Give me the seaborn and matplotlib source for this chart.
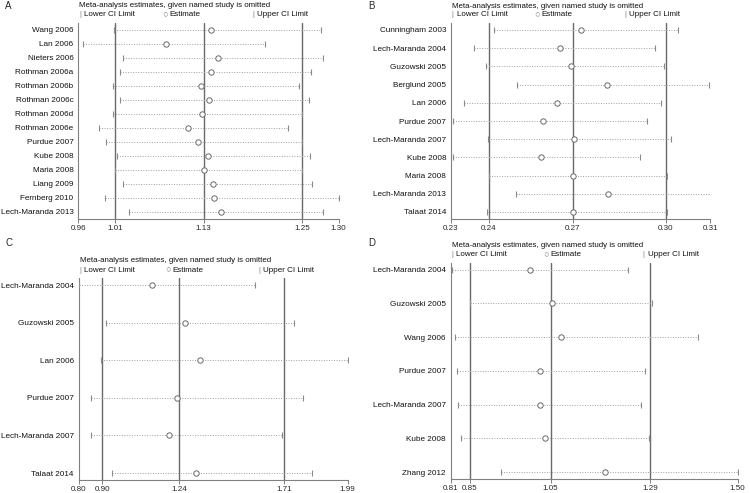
import numpy as np
import matplotlib
matplotlib.use("Agg")
import matplotlib.pyplot as plt
import seaborn as sns

# panel A
a_studies = ["Wang 2006", "Lan 2006", "Nieters 2006", "Rothman 2006a", "Rothman 2006b",
             "Rothman 2006c", "Rothman 2006d", "Rothman 2006e", "Purdue 2007", "Kube 2008",
             "Maria 2008", "Liang 2009", "Fernberg 2010", "Lech-Maranda 2013"]
a_lower = [1.009, 0.969, 1.021, 1.017, 1.008, 1.016, 1.008, 0.989, 0.999, 1.013, 1.010, 1.021, 0.997, 1.028]
a_est = [1.134, 1.076, 1.143, 1.134, 1.121, 1.132, 1.123, 1.105, 1.118, 1.131, 1.125, 1.137, 1.139, 1.147]
a_upper = [1.277, 1.204, 1.280, 1.264, 1.249, 1.262, 1.253, 1.234, 1.252, 1.263, 1.252, 1.266, 1.300, 1.280]
a_overall = [1.010, 1.125, 1.253]
a_range = [0.9626, 1.300]
a_ticklabels = ["0.96", "1.01", "1.13", "1.25", "1.30"]

# panel B
b_studies = ["Cunningham 2003", "Lech-Maranda 2004", "Guzowski 2005", "Berglund 2005", "Lan 2006",
             "Purdue 2007", "Lech-Maranda 2007", "Kube 2008", "Maria 2008", "Lech-Maranda 2013",
             "Talaat 2014"]
b_lower = [0.2454, 0.2391, 0.2429, 0.2523, 0.2361, 0.2326, 0.2434, 0.2327, 0.2436, 0.2520, 0.2430]
b_est = [0.2722, 0.2656, 0.2689, 0.2802, 0.2647, 0.2603, 0.2700, 0.2598, 0.2697, 0.2803, 0.2695]
b_upper = [0.3021, 0.2950, 0.2978, 0.3115, 0.2969, 0.2924, 0.2999, 0.2902, 0.2987, 0.3121, 0.2987]
b_overall = [0.2436, 0.2695, 0.2982]
b_range = [0.232, 0.312]
b_ticklabels = ["0.23", "0.24", "0.27", "0.30", "0.31"]

# panel C
c_studies = ["Lech-Maranda 2004", "Guzowski 2005", "Lan 2006", "Purdue 2007",
             "Lech-Maranda 2007", "Talaat 2014"]
c_lower = [0.800, 0.922, 0.900, 0.853, 0.853, 0.949]
c_est = [1.124, 1.272, 1.337, 1.235, 1.201, 1.319]
c_upper = [1.581, 1.751, 1.990, 1.792, 1.699, 1.832]
c_overall = [0.904, 1.243, 1.710]
c_range = [0.80, 1.99]
c_ticklabels = ["0.80", "0.90", "1.24", "1.71", "1.99"]

# panel D
d_studies = ["Lech-Maranda 2004", "Guzowski 2005", "Wang 2006", "Purdue 2007",
             "Lech-Maranda 2007", "Kube 2008", "Zhang 2012"]
d_lower = [0.812, 0.856, 0.821, 0.824, 0.828, 0.835, 0.931]
d_est = [1.000, 1.053, 1.075, 1.025, 1.025, 1.036, 1.181]
d_upper = [1.237, 1.294, 1.405, 1.277, 1.268, 1.286, 1.500]
d_overall = [0.856, 1.050, 1.290]
d_range = [0.81, 1.50]
d_ticklabels = ["0.81", "0.85", "1.05", "1.29", "1.50"]

sns.set_style("white")
plt.rcParams["font.family"] = ["Liberation Sans", "DejaVu Sans"]

W, H = 750, 493
fig = plt.figure(figsize=(7.5, 4.93), dpi=100)


def panel(box, letter, letter_xy, studies, lower, est, upper, overall, xr, ticklabels):
    left, top, right, bottom = box
    ax = fig.add_axes([left / W, 1 - bottom / H, (right - left) / W, (bottom - top) / H])
    n = len(studies)
    ys = np.arange(n)
    h_px = bottom - top
    step = (h_px - 14) / (n - 1)
    pad = 7 / step

    for v in overall:
        ax.axvline(v, color="#6a6a6a", lw=1.0, zorder=1)
    ax.hlines(ys, lower, upper, color="#a0a0a0", lw=0.7, linestyles=(0, (1, 1.6)), zorder=2)
    sns.scatterplot(x=lower, y=ys, marker="|", color="#8a8a8a", s=22, linewidth=0.8, ax=ax, zorder=3)
    sns.scatterplot(x=upper, y=ys, marker="|", color="#8a8a8a", s=22, linewidth=0.8, ax=ax, zorder=3)
    sns.scatterplot(x=est, y=ys, marker="o", facecolor="white", edgecolor="#6a6a6a", s=15,
                    linewidth=0.7, ax=ax, zorder=4)

    ax.set_xlim(xr)
    ax.set_ylim(n - 1 + pad, -pad)
    ax.set_xticks([xr[0]] + list(overall) + [xr[1]])
    ax.set_xticklabels(ticklabels, fontsize=5.8)
    ax.set_yticks(ys)
    ax.set_yticklabels(studies, fontsize=5.9, color="#111111")
    ax.tick_params(axis="x", length=3, width=0.7, color="#808080", pad=1.5, direction="out", bottom=True)
    ax.tick_params(axis="y", length=0, pad=3.5)
    for s in ["top", "right"]:
        ax.spines[s].set_visible(False)
    for s in ["left", "bottom"]:
        ax.spines[s].set_color("#808080")
        ax.spines[s].set_linewidth(0.8)
    ax.set_xlabel("")
    ax.set_ylabel("")

    ax.annotate("Meta-analysis estimates, given named study is omitted", xy=(0, 1),
                xycoords="axes fraction", xytext=(1, 17), textcoords="offset pixels",
                fontsize=5.7, va="center", ha="left", color="#111111")
    for xf, mk, lab, fs in [(0.006, "|", "Lower CI Limit", 5.2), (0.333, "○", "Estimate", 6.5),
                            (0.672, "|", "Upper CI Limit", 5.2)]:
        ax.annotate(mk, xy=(xf, 1), xycoords="axes fraction", xytext=(0, 8),
                    textcoords="offset pixels", fontsize=fs, va="center", ha="center",
                    color="#808080")
        ax.annotate(lab, xy=(xf, 1), xycoords="axes fraction", xytext=(4, 8),
                    textcoords="offset pixels", fontsize=5.8, va="center", ha="left",
                    color="#111111")
    fig.text(letter_xy[0] / W, 1 - letter_xy[1] / H, letter, fontsize=7, va="center", ha="left")
    return ax


panel((78.3, 22.7, 338.7, 219), "A", (5, 6), a_studies, a_lower, a_est, a_upper, a_overall, a_range, a_ticklabels)
panel((451, 23, 710.3, 219), "B", (368, 6), b_studies, b_lower, b_est, b_upper, b_overall, b_range, b_ticklabels)
panel((78.7, 278, 347.7, 480), "C", (5, 243), c_studies, c_lower, c_est, c_upper, c_overall, c_range, c_ticklabels)
panel((450.7, 262.7, 737.7, 479), "D", (368, 243), d_studies, d_lower, d_est, d_upper, d_overall, d_range, d_ticklabels)

fig.savefig("out.png", dpi=100)
